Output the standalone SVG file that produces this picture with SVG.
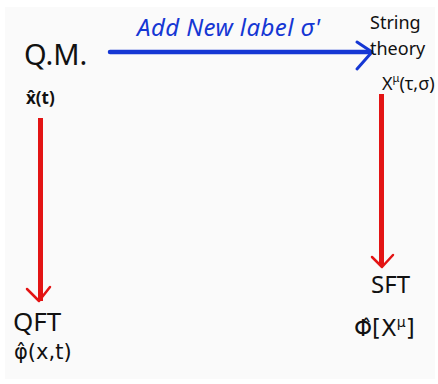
<svg xmlns="http://www.w3.org/2000/svg" width="438" height="384" viewBox="0 0 438 384">
<style>
.t{font-family:"Noto Sans","DejaVu Sans",sans-serif;fill:#111}
.d{font-family:"DejaVu Sans",sans-serif;fill:#111}
.b{font-family:"Noto Sans","DejaVu Sans",sans-serif;fill:#1537d4;font-style:italic}
.blue{stroke:#1537d4;fill:none;stroke-linecap:round;stroke-linejoin:round}
.red{stroke:#e31414;fill:none;stroke-linejoin:round}
</style>
<rect x="0" y="0" width="438" height="384" fill="#ffffff"/>
<rect x="5" y="7" width="430" height="372" fill="#fafafa"/>
<g id="connectors">
<g id="edge-qm-string">
<line class="blue" x1="110" y1="52" x2="371" y2="52" stroke-width="4.5"/>
<polyline class="blue" points="357,42 372,52 357,69" stroke-width="3"/>
<text class="b" x="137" y="36" font-size="24" textLength="183" lengthAdjust="spacing">Add New label σ'</text>
</g>
<g id="edge-qm-qft">
<line class="red" x1="40.5" y1="118" x2="40.5" y2="301" stroke-width="5"/>
<polyline class="red" points="27,289 39,301 50,287" stroke-width="2.5" stroke-linecap="round"/>
</g>
<g id="edge-string-sft">
<line class="red" x1="381.5" y1="94" x2="381.5" y2="266" stroke-width="5"/>
<polyline class="red" points="372,257 382,267 393,255" stroke-width="2.5" stroke-linecap="round"/>
</g>
</g>
<g id="node-qm">
<text class="t" x="24" y="65" font-size="29">Q.M.</text>
<text class="t" x="26" y="104" font-size="17" font-weight="bold">x̂(t)</text>
</g>
<g id="node-string">
<text class="t" x="370" y="29" font-size="18">String</text>
<text class="t" x="370" y="55" font-size="18">theory</text>
<text class="t" x="382" y="90" font-size="18">X<tspan font-size="11" dy="-8">μ</tspan><tspan dy="8">(τ,σ)</tspan></text>
</g>
<g id="node-qft">
<text class="t" x="13" y="331" font-size="26">QFT</text>
<text class="d" x="14" y="359" font-size="21">φ̂(x,t)</text>
</g>
<g id="node-sft">
<text class="t" x="371" y="293" font-size="24">SFT</text>
<text class="d" x="354" y="336" font-size="23">Φ̂[X<tspan font-size="14" dy="-9">μ</tspan><tspan dy="9">]</tspan></text>
</g>
</svg>
